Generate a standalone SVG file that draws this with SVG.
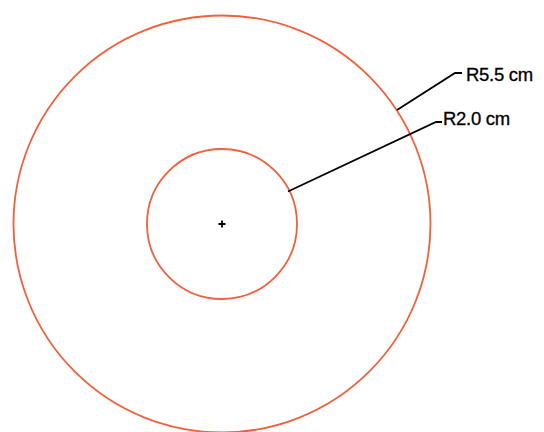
<svg xmlns="http://www.w3.org/2000/svg" width="544" height="432" viewBox="0 0 544 432">
<style>
.c{fill:none;stroke:#f0603c;stroke-width:1.8}
.l{fill:none;stroke:#000;stroke-width:1.8}
.t{font-family:"Liberation Sans",Arial,sans-serif;font-size:18.5px;letter-spacing:-0.3px;fill:#000;stroke:#000;stroke-width:0.3}
</style>
<rect width="544" height="432" fill="#fff"/>
<g id="outer"><circle class="c" cx="222" cy="224" r="208.5"/></g>
<g id="inner"><circle class="c" cx="222" cy="224" r="75"/></g>
<g id="center"><path class="l" d="M218.5 224H225.5M222 220.5V227.5" stroke-width="1.5"/></g>
<g id="connectors">
<path class="l" d="M397 110L455 73H462"/>
<path class="l" d="M288 191.5L436 122H442"/>
</g>
<g id="label1"><text class="t" x="466" y="81">R5.5 cm</text></g>
<g id="label2"><text class="t" x="443" y="125">R2.0 cm</text></g>
</svg>
